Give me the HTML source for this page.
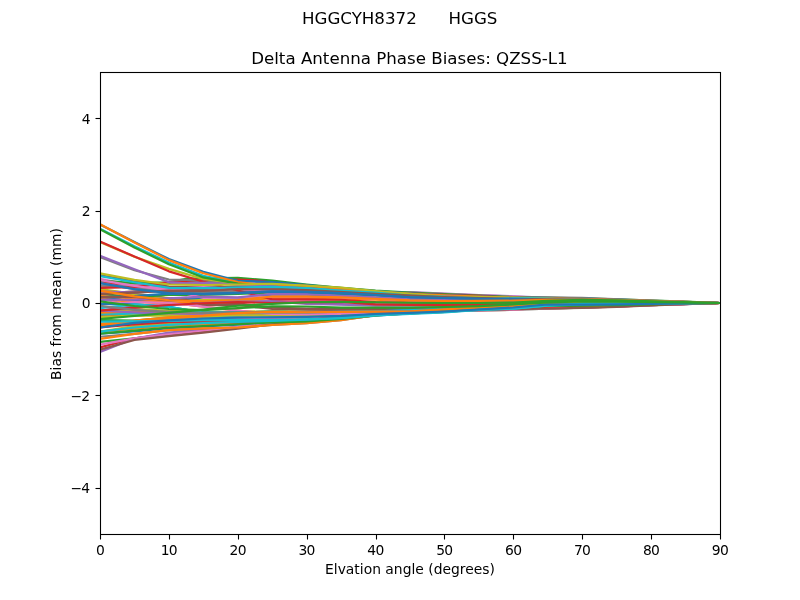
<!DOCTYPE html>
<html lang="en">
<head>
<meta charset="utf-8">
<title>Delta Antenna Phase Biases: QZSS-L1</title>
<style>
html,body{margin:0;padding:0;background:#fff;}
body{width:800px;height:600px;overflow:hidden;}
svg{display:block;font-family:"DejaVu Sans","Liberation Sans",sans-serif;fill:#000;}
.t10{font-size:13.89px;}
.t12{font-size:16.67px;}
.series polyline{fill:none;stroke-width:2.2;stroke-linejoin:round;stroke-linecap:butt;}
.ticks line{stroke:#000;stroke-width:1.1;}
</style>
</head>
<body>
<svg width="800" height="600" viewBox="0 0 800 600">
<rect x="0" y="0" width="800" height="600" fill="#ffffff"/>
<text class="t12" x="399.7" y="23.6" text-anchor="middle" xml:space="preserve" style="white-space:pre">HGGCYH8372      HGGS</text>
<text class="t12" x="409.4" y="64.2" text-anchor="middle">Delta Antenna Phase Biases: QZSS-L1</text>
<defs><clipPath id="axclip"><rect x="100" y="72" width="620" height="462"/></clipPath></defs>
<g class="series" clip-path="url(#axclip)">
<polyline points="100.00,333.72 134.44,331.40 168.89,328.08 203.33,326.52 237.78,324.71 272.22,322.81 306.67,321.84 341.11,319.24 375.56,315.71 410.00,313.36 444.44,311.71 478.89,309.60 513.33,307.73 547.78,306.10 582.22,305.72 616.67,305.15 720.00,303.00" stroke="#1f77b4"/>
<polyline points="100.00,331.64 134.44,326.12 168.89,323.70 203.33,322.07 237.78,321.02 272.22,320.20 306.67,318.91 341.11,317.19 375.56,314.54 410.00,312.78 444.44,311.46 478.89,309.66 513.33,308.32 547.78,305.58 582.22,304.21 651.11,303.38 720.00,303.00" stroke="#bcbd22"/>
<polyline points="100.00,327.49 134.44,321.84 168.89,319.47 203.33,317.71 237.78,317.00 272.22,316.71 306.67,316.32 341.11,315.49 375.56,313.64 410.00,312.60 444.44,311.26 513.33,307.31 547.78,304.24 582.22,304.53 616.67,304.28 720.00,303.00" stroke="#17becf"/>
<polyline points="100.00,325.41 134.44,321.92 168.89,318.52 203.33,316.69 237.78,314.09 272.22,312.60 306.67,312.96 341.11,312.38 410.00,311.70 478.89,307.89 513.33,306.23 547.78,303.33 565.00,302.81 582.22,303.40 616.67,303.69 651.11,303.55 720.00,303.00" stroke="#1f77b4"/>
<polyline points="100.00,320.19 134.44,320.56 168.89,317.32 203.33,315.66 237.78,313.16 272.22,311.78 306.67,312.24 341.11,311.78 375.56,311.59 410.00,311.32 478.89,307.62 513.33,306.00 547.78,303.14 565.00,302.63 582.22,303.23 616.67,303.55 651.11,303.46 720.00,303.00" stroke="#2ca02c"/>
<polyline points="100.00,317.14 134.44,314.34 168.89,314.46 203.33,315.37 237.78,314.32 272.22,314.65 306.67,314.76 444.44,308.69 513.33,306.94 547.78,305.81 582.22,305.46 651.11,304.30 720.00,303.00" stroke="#d62728"/>
<polyline points="100.00,310.62 134.44,306.11 203.33,301.87 237.78,300.60 272.22,300.48 306.67,303.13 341.11,304.10 375.56,305.25 444.44,304.96 513.33,304.14 720.00,303.00" stroke="#9467bd"/>
<polyline points="100.00,323.79 134.44,324.23 168.89,321.57 203.33,319.50 237.78,318.62 272.22,318.14 306.67,317.58 341.11,316.53 375.56,314.47 410.00,313.27 444.44,311.82 513.33,307.70 547.78,304.58 582.22,304.83 616.67,304.52 720.00,303.00" stroke="#e377c2"/>
<polyline points="100.00,289.14 134.44,293.91 168.89,298.13 203.33,299.59 237.78,298.38 272.22,295.09 306.67,295.27 341.11,296.22 375.56,297.93 410.00,299.74 444.44,300.60 513.33,300.30 547.78,299.43 582.22,299.70 616.67,300.22 685.56,301.99 720.00,303.00" stroke="#bcbd22"/>
<polyline points="100.00,314.87 134.44,311.44 168.89,312.96 203.33,314.24 237.78,314.78 272.22,314.86 306.67,314.47 444.44,308.31 513.33,306.53 651.11,303.86 720.00,303.00" stroke="#2ca02c"/>
<polyline points="100.00,301.38 134.44,294.37 168.89,298.59 186.11,297.82 203.33,303.33 237.78,303.23 272.22,307.57 306.67,308.49 341.11,308.88 375.56,308.64 513.33,306.31 582.22,306.86 651.11,304.70 720.00,303.00" stroke="#8c564b"/>
<polyline points="100.00,298.75 134.44,294.93 168.89,299.03 203.33,300.36 237.78,299.07 272.22,295.71 306.67,295.81 341.11,296.67 375.56,298.28 410.00,300.03 444.44,300.84 513.33,300.47 547.78,299.57 582.22,299.83 616.67,300.32 685.56,302.03 720.00,303.00" stroke="#bcbd22"/>
<polyline points="100.00,297.09 134.44,300.90 168.89,299.58 203.33,297.56 237.78,298.38 272.22,294.58 306.67,294.71 341.11,296.21 375.56,297.93 444.44,300.08 513.33,301.37 582.22,302.25 720.00,303.00" stroke="#1f77b4"/>
<polyline points="100.00,293.90 134.44,297.44 168.89,294.73 203.33,295.02 237.78,293.99 272.22,292.50 306.67,292.86 341.11,293.90 375.56,295.48 410.00,297.66 444.44,298.33 478.89,299.11 513.33,299.62 547.78,300.88 582.22,301.79 720.00,303.00" stroke="#2ca02c"/>
<polyline points="100.00,281.29 134.44,287.77 168.89,291.92 203.33,292.87 237.78,291.91 272.22,290.63 306.67,291.19 341.11,292.51 375.56,294.54 410.00,296.89 444.44,297.69 478.89,298.58 513.33,299.17 547.78,300.50 582.22,301.44 720.00,303.00" stroke="#d62728"/>
<polyline points="100.00,287.89 134.44,283.84 168.89,287.94 203.33,286.03 237.78,288.22 272.22,289.70 306.67,290.73 375.56,293.29 410.00,292.22 478.89,295.11 513.33,296.31 582.22,299.13 720.00,303.00" stroke="#9467bd"/>
<polyline points="100.00,293.90 134.44,291.24 168.89,289.33 203.33,289.96 237.78,288.22 272.22,288.55 306.67,289.35 375.56,293.29 444.44,296.68 513.33,298.62 582.22,299.59 651.11,301.53 720.00,303.00" stroke="#8c564b"/>
<polyline points="100.00,298.75 134.44,305.57 168.89,303.19 203.33,301.69 237.78,300.69 272.22,301.77 306.67,301.18 341.11,300.99 375.56,303.68 410.00,304.41 444.44,304.65 478.89,304.45 513.33,304.05 720.00,303.00" stroke="#e377c2"/>
<polyline points="100.00,312.61 134.44,308.90 168.89,310.88 203.33,312.12 237.78,311.78 272.22,311.16 306.67,311.70 341.11,311.33 375.56,311.24 410.00,311.03 478.89,307.42 513.33,305.84 582.22,304.26 651.11,303.40 720.00,303.00" stroke="#bcbd22"/>
<polyline points="100.00,283.13 134.44,289.11 168.89,284.01 203.33,281.90 237.78,281.06 255.00,281.67 272.22,283.90 341.11,290.04 375.56,292.62 410.00,293.88 444.44,295.39 478.89,296.24 513.33,298.02 547.78,299.13 582.22,300.02 720.00,303.00" stroke="#9467bd"/>
<polyline points="100.00,275.28 134.44,280.84 168.89,286.69 203.33,287.19 272.22,286.01 306.67,287.50 341.11,290.02 375.56,292.04 410.00,295.22 444.44,296.45 478.89,298.11 513.33,297.88 547.78,298.33 582.22,300.06 720.00,303.00" stroke="#8c564b"/>
<polyline points="100.00,341.81 134.44,338.34 168.89,334.23 203.33,330.72 272.22,323.33 306.67,320.56 375.56,314.32 444.44,311.08 513.33,309.75 582.22,307.62 651.11,305.08 720.00,303.00" stroke="#2ca02c"/>
<polyline points="100.00,347.35 134.44,338.25 168.89,334.63 203.33,331.28 237.78,327.58 272.22,323.23 375.56,313.96 444.44,310.46 513.33,308.96 582.22,307.64 616.67,306.76 651.11,305.20 720.00,303.00" stroke="#d62728"/>
<polyline points="100.00,351.97 134.44,338.57 168.89,332.57 203.33,329.43 237.78,327.02 272.22,323.79 306.67,321.02 341.11,318.01 375.56,314.80 410.00,312.65 444.44,310.94 478.89,309.65 513.33,308.58 547.78,307.80 582.22,307.29 616.67,306.43 651.11,305.14 685.56,304.20 720.00,303.00" stroke="#9467bd"/>
<polyline points="100.00,336.73 134.44,333.95 168.89,330.12 203.33,328.41 237.78,327.49 272.22,324.99 306.67,323.10 341.11,320.09 375.56,315.24 410.00,313.39 444.44,311.78 478.89,309.47 513.33,307.62 547.78,306.23 582.22,305.54 651.11,303.92 720.00,303.00" stroke="#7f7f7f"/>
<polyline points="100.00,331.64 168.89,325.69 203.33,324.47 237.78,322.87 272.22,321.17 306.67,320.40 341.11,318.04 375.56,314.77 410.00,312.59 444.44,311.07 478.89,309.07 513.33,307.29 547.78,305.72 582.22,305.38 616.67,304.87 720.00,303.00" stroke="#ff7f0e"/>
<polyline points="100.00,325.41 134.44,320.81 168.89,318.57 203.33,316.94 237.78,316.31 272.22,316.09 306.67,315.78 341.11,315.04 375.56,313.29 410.00,312.31 444.44,311.03 513.33,307.15 547.78,304.10 582.22,304.41 616.67,304.18 720.00,303.00" stroke="#ff7f0e"/>
<polyline points="100.00,314.87 134.44,313.65 168.89,313.86 203.33,314.86 237.78,313.86 272.22,314.24 306.67,314.40 375.56,311.53 444.44,308.53 513.33,306.82 547.78,305.72 582.22,305.38 651.11,304.26 720.00,303.00" stroke="#7f7f7f"/>
<polyline points="100.00,313.76 134.44,313.84 168.89,315.05 203.33,316.04 237.78,316.40 272.22,316.30 306.67,315.73 444.44,308.86 513.33,306.92 651.11,304.01 720.00,303.00" stroke="#17becf"/>
<polyline points="100.00,312.61 134.44,311.30 168.89,312.98 203.33,313.91 237.78,313.39 272.22,312.60 306.67,312.96 341.11,312.38 410.00,311.70 478.89,307.89 513.33,306.23 582.22,304.56 651.11,303.55 720.00,303.00" stroke="#ff7f0e"/>
<polyline points="100.00,298.75 134.44,302.08 168.89,302.77 237.78,310.62 272.22,314.00 306.67,314.37 341.11,313.63 375.56,312.70 444.44,310.39 513.33,309.75 547.78,307.48 582.22,306.79 616.67,306.00 651.11,304.85 720.00,303.00" stroke="#ff7f0e"/>
<polyline points="100.00,295.75 134.44,298.70 168.89,302.32 203.33,303.18 237.78,301.61 272.22,297.97 306.67,297.79 341.11,298.32 375.56,299.57 410.00,301.09 444.44,301.71 513.33,301.08 547.78,300.10 582.22,300.30 616.67,300.70 651.11,301.39 685.56,302.16 720.00,303.00" stroke="#ff7f0e"/>
<polyline points="100.00,291.45 134.44,292.61 168.89,290.53 203.33,290.99 237.78,289.14 272.22,289.37 306.67,290.06 375.56,293.76 444.44,296.99 513.33,298.84 582.22,299.77 651.11,301.61 720.00,303.00" stroke="#9467bd"/>
<polyline points="100.00,285.63 134.44,287.09 168.89,291.32 203.33,292.36 237.78,291.45 272.22,290.22 306.67,290.83 341.11,292.21 375.56,294.30 410.00,296.69 444.44,297.54 478.89,298.44 513.33,299.06 547.78,300.40 582.22,301.36 720.00,303.00" stroke="#7f7f7f"/>
<polyline points="100.00,278.75 134.44,285.21 168.89,289.14 203.33,287.06 237.78,289.14 272.22,290.53 306.67,291.45 375.56,293.76 410.00,292.61 478.89,295.38 513.33,296.53 582.22,299.30 720.00,303.00" stroke="#e377c2"/>
<polyline points="100.00,280.59 134.44,283.13 168.89,282.44 186.11,278.75 203.33,278.28 237.78,277.73 272.22,280.59 306.67,284.52 341.11,287.75 375.56,290.62 410.00,292.61 444.44,294.22 513.33,296.99 582.22,298.38 616.67,299.30 685.56,301.61 720.00,303.00" stroke="#2ca02c"/>
<polyline points="100.00,287.89 134.44,287.06 168.89,282.21 203.33,280.36 237.78,279.67 255.00,280.36 272.22,282.67 341.11,289.14 375.56,291.91 410.00,293.30 444.44,294.92 478.89,295.84 513.33,297.69 547.78,298.84 582.22,299.77 720.00,303.00" stroke="#d62728"/>
<polyline points="100.00,257.03 134.44,270.20 168.89,279.53 186.11,279.90 203.33,281.29 237.78,284.52 272.22,285.91 375.56,292.84 444.44,296.07 513.33,297.92 547.78,297.46 582.22,297.92 651.11,300.69 720.00,303.00" stroke="#7f7f7f"/>
<polyline points="100.00,242.02 134.44,256.80 168.89,268.90 203.33,278.98 237.78,283.60 272.22,285.91 306.67,288.68 341.11,291.06 375.56,293.62 410.00,295.33 444.44,296.69 478.89,297.71 513.33,298.57 547.78,299.18 582.22,299.59 616.67,300.27 651.11,301.29 685.56,302.05 720.00,303.00" stroke="#bcbd22"/>
<polyline points="100.00,228.62 134.44,246.17 168.89,262.57 203.33,275.88 237.78,282.67 272.22,285.91 306.67,288.68 341.11,291.06 375.56,293.62 410.00,295.33 444.44,296.69 478.89,297.71 513.33,298.57 547.78,299.18 582.22,299.59 616.67,300.27 651.11,301.29 685.56,302.05 720.00,303.00" stroke="#17becf"/>
<polyline points="100.00,224.46 134.44,242.02 168.89,259.11 203.33,271.77 237.78,280.82 272.22,281.98 341.11,287.99 375.56,291.20 410.00,293.35 444.44,295.06 478.89,296.35 513.33,297.42 547.78,298.20 582.22,298.71 616.67,299.57 651.11,300.86 685.56,301.80 720.00,303.00" stroke="#1f77b4"/>
<polyline points="100.00,224.23 134.44,242.48 168.89,260.13 203.33,273.25 237.78,281.98 255.00,284.06 272.22,284.29 306.67,285.91 341.11,288.75 375.56,291.81 410.00,293.84 444.44,295.47 478.89,296.69 513.33,297.71 547.78,298.44 582.22,298.93 616.67,299.74 651.11,300.97 685.56,301.86 720.00,303.00" stroke="#ff7f0e"/>
<polyline points="100.00,229.31 134.44,247.56 168.89,264.19 203.33,277.41 237.78,283.60 272.22,286.83 306.67,289.60 341.11,291.84 375.56,294.23 410.00,295.82 444.44,297.10 478.89,298.06 513.33,298.85 547.78,299.43 582.22,299.81 616.67,300.45 651.11,301.40 685.56,302.11 720.00,303.00" stroke="#2ca02c"/>
<polyline points="100.00,241.55 134.44,256.52 168.89,271.35 203.33,281.75 237.78,290.53 272.22,299.40 306.67,299.40 341.11,299.77 375.56,302.08 410.00,302.77 444.44,303.00 513.33,302.54 582.22,301.61 651.11,302.08 720.00,303.00" stroke="#d62728"/>
<polyline points="100.00,255.88 134.44,269.27 168.89,282.12 186.11,283.23 203.33,282.90 220.56,283.60 237.78,284.98 272.22,286.37 306.67,288.68 341.11,291.06 375.56,293.62 410.00,295.33 444.44,296.69 478.89,297.71 513.33,298.57 547.78,299.18 582.22,299.59 616.67,300.27 651.11,301.29 685.56,302.05 720.00,303.00" stroke="#9467bd"/>
<polyline points="100.00,273.29 134.44,279.90 168.89,284.52 203.33,284.98 237.78,284.52 272.22,283.73 341.11,287.52 375.56,290.99 444.44,296.53 478.89,296.99 513.33,297.69 547.78,298.84 582.22,299.77 720.00,303.00" stroke="#bcbd22"/>
<polyline points="100.00,276.20 134.44,282.21 168.89,287.89 203.33,288.22 272.22,286.83 306.67,288.22 341.11,290.62 375.56,292.51 410.00,295.61 444.44,296.76 478.89,298.38 513.33,298.10 547.78,298.52 582.22,300.23 720.00,303.00" stroke="#17becf"/>
<polyline points="100.00,280.13 134.44,285.91 168.89,290.53 186.11,293.76 203.33,297.92 237.78,297.69 272.22,296.53 306.67,296.53 341.11,297.27 375.56,298.75 410.00,300.41 444.44,301.15 513.33,300.69 547.78,299.77 582.22,300.00 616.67,300.46 685.56,302.08 720.00,303.00" stroke="#e377c2"/>
<polyline points="100.00,293.90 134.44,292.61 168.89,290.53 203.33,290.99 237.78,289.14 272.22,289.37 306.67,290.06 375.56,293.76 444.44,296.99 513.33,298.84 582.22,299.77 651.11,301.61 720.00,303.00" stroke="#8c564b"/>
<polyline points="100.00,299.90 134.44,299.53 168.89,298.38 203.33,296.53 237.78,297.46 272.22,293.76 306.67,293.99 341.11,295.61 375.56,297.46 444.44,299.77 513.33,301.15 582.22,302.08 720.00,303.00" stroke="#9467bd"/>
<polyline points="100.00,297.09 134.44,296.07 168.89,293.53 203.33,293.99 237.78,293.07 272.22,291.68 306.67,292.14 341.11,293.30 375.56,295.01 410.00,297.27 444.44,298.01 478.89,298.84 513.33,299.40 547.78,300.69 582.22,301.61 720.00,303.00" stroke="#1f77b4"/>
<polyline points="100.00,283.13 134.44,289.14 168.89,293.11 203.33,293.90 237.78,292.84 272.22,291.45 306.67,291.91 341.11,293.11 375.56,295.01 410.00,297.27 444.44,298.01 478.89,298.84 513.33,299.40 547.78,300.69 582.22,301.61 720.00,303.00" stroke="#1f77b4"/>
<polyline points="100.00,297.09 134.44,296.76 168.89,300.69 186.11,299.77 203.33,305.13 237.78,304.85 272.22,309.01 306.67,309.75 341.11,309.93 375.56,309.47 513.33,306.70 582.22,307.16 651.11,304.85 720.00,303.00" stroke="#8c564b"/>
<polyline points="100.00,290.53 134.44,296.30 168.89,300.23 203.33,301.38 237.78,300.00 272.22,296.53 306.67,296.53 341.11,297.27 375.56,298.75 410.00,300.41 444.44,301.15 513.33,300.69 547.78,299.77 582.22,300.00 616.67,300.46 685.56,302.08 720.00,303.00" stroke="#ff7f0e"/>
<polyline points="100.00,310.62 134.44,312.47 168.89,313.86 203.33,315.01 237.78,315.47 272.22,315.47 306.67,315.01 444.44,308.54 513.33,306.70 651.11,303.92 720.00,303.00" stroke="#9467bd"/>
<polyline points="100.00,310.62 134.44,307.62 203.33,303.00 237.78,301.61 272.22,301.38 306.67,303.92 341.11,304.76 375.56,305.77 444.44,305.31 513.33,304.39 720.00,303.00" stroke="#9467bd"/>
<polyline points="100.00,317.14 134.44,315.71 168.89,315.66 203.33,316.40 237.78,315.24 272.22,315.47 306.67,315.47 444.44,309.01 513.33,307.16 547.78,306.00 582.22,305.63 651.11,304.39 720.00,303.00" stroke="#bcbd22"/>
<polyline points="100.00,304.39 134.44,302.08 168.89,302.77 237.78,310.62 272.22,314.00 306.67,314.37 341.11,313.63 375.56,312.70 444.44,310.39 513.33,309.75 547.78,307.48 582.22,306.79 616.67,306.00 651.11,304.85 720.00,303.00" stroke="#e377c2"/>
<polyline points="100.00,303.83 134.44,304.39 168.89,306.93 203.33,312.70 237.78,312.47 272.22,311.78 306.67,312.24 375.56,311.32 444.44,309.01 513.33,305.77 582.22,304.39 651.11,303.46 720.00,303.00" stroke="#1f77b4"/>
<polyline points="100.00,308.08 134.44,304.39 168.89,306.93 203.33,312.70 237.78,312.47 272.22,311.78 306.67,312.24 375.56,311.32 444.44,309.01 513.33,305.77 582.22,304.39 651.11,303.46 720.00,303.00" stroke="#17becf"/>
<polyline points="100.00,310.62 134.44,307.62 168.89,304.99 203.33,303.23 237.78,302.08 272.22,303.00 306.67,302.26 341.11,301.89 375.56,304.39 410.00,304.99 444.44,305.13 478.89,304.85 513.33,304.39 720.00,303.00" stroke="#d62728"/>
<polyline points="100.00,305.86 134.44,309.93 168.89,311.78 203.33,312.89 237.78,312.47 272.22,311.78 306.67,312.24 341.11,311.78 375.56,311.59 410.00,311.32 478.89,307.62 513.33,306.00 582.22,304.39 651.11,303.46 720.00,303.00" stroke="#7f7f7f"/>
<polyline points="100.00,344.58 134.44,338.34 168.89,334.23 203.33,330.72 272.22,323.33 306.67,320.56 375.56,314.32 444.44,311.08 513.33,309.75 582.22,307.62 651.11,305.08 720.00,303.00" stroke="#e377c2"/>
<polyline points="100.00,349.66 134.44,339.96 168.89,336.13 203.33,332.57 237.78,328.73 272.22,324.25 375.56,314.55 444.44,310.85 513.33,309.24 582.22,307.85 616.67,306.93 651.11,305.31 720.00,303.00" stroke="#8c564b"/>
<polyline points="100.00,338.81 134.44,333.95 168.89,330.12 203.33,328.41 237.78,327.49 272.22,324.99 306.67,323.10 341.11,320.09 375.56,315.24 410.00,313.39 444.44,311.78 478.89,309.47 513.33,307.62 547.78,306.23 582.22,305.54 651.11,303.92 720.00,303.00" stroke="#ff7f0e"/>
<polyline points="100.00,327.49 134.44,324.48 168.89,322.27 203.33,321.71 237.78,322.40 272.22,321.48 306.67,320.09 375.56,314.09 444.44,310.39 513.33,307.62 582.22,305.77 720.00,303.00" stroke="#d62728"/>
<polyline points="100.00,333.72 134.44,330.72 168.89,327.49 203.33,326.01 237.78,324.25 272.22,322.40 306.67,321.48 341.11,318.94 375.56,315.47 410.00,313.16 444.44,311.55 478.89,309.47 513.33,307.62 547.78,306.00 582.22,305.63 616.67,305.08 720.00,303.00" stroke="#2ca02c"/>
<polyline points="100.00,331.64 134.44,327.49 168.89,324.90 203.33,323.10 237.78,321.94 272.22,321.02 306.67,319.63 341.11,317.78 375.56,315.01 410.00,313.16 444.44,311.78 478.89,309.93 513.33,308.54 547.78,305.77 582.22,304.39 651.11,303.46 720.00,303.00" stroke="#17becf"/>
<polyline points="100.00,323.79 168.89,317.32 203.33,315.66 237.78,313.16 272.22,311.78 306.67,312.24 341.11,311.78 375.56,311.59 410.00,311.32 478.89,307.62 513.33,306.00 547.78,303.14 565.00,302.63 582.22,303.23 616.67,303.55 651.11,303.46 720.00,303.00" stroke="#ff7f0e"/>
<polyline points="100.00,321.71 168.89,320.79 203.33,320.09 272.22,320.09 306.67,319.40 341.11,318.11 375.56,315.47 410.00,313.86 444.44,312.47 478.89,309.93 513.33,308.54 547.78,305.31 582.22,303.55 720.00,303.00" stroke="#17becf"/>
<polyline points="100.00,327.49 134.44,322.87 168.89,320.37 203.33,318.48 237.78,317.69 272.22,317.32 306.67,316.86 341.11,315.94 375.56,314.00 410.00,312.89 444.44,311.50 513.33,307.48 547.78,304.39 582.22,304.66 616.67,304.39 720.00,303.00" stroke="#1f77b4"/>
<polyline points="100.00,301.38 134.44,306.00 168.89,309.01 203.33,310.16 237.78,308.08 272.22,306.47 306.67,306.51 341.11,307.62 410.00,307.62 444.44,307.02 478.89,306.10 513.33,304.39 547.78,302.31 582.22,301.48 616.67,301.61 720.00,303.00" stroke="#2ca02c"/>
<polyline points="100.00,318.99 168.89,312.93 203.33,309.70 237.78,305.77 272.22,303.92 306.67,302.26 341.11,301.89 375.56,302.26 410.00,302.77 444.44,303.00 478.89,303.00 513.33,302.54 547.78,300.92 582.22,299.77 616.67,300.23 720.00,303.00" stroke="#2ca02c"/>
</g>
<g class="ticks"><line x1="100.5" y1="534.5" x2="100.5" y2="539.5"/><line x1="169.5" y1="534.5" x2="169.5" y2="539.5"/><line x1="238.5" y1="534.5" x2="238.5" y2="539.5"/><line x1="307.5" y1="534.5" x2="307.5" y2="539.5"/><line x1="376.5" y1="534.5" x2="376.5" y2="539.5"/><line x1="444.5" y1="534.5" x2="444.5" y2="539.5"/><line x1="513.5" y1="534.5" x2="513.5" y2="539.5"/><line x1="582.5" y1="534.5" x2="582.5" y2="539.5"/><line x1="651.5" y1="534.5" x2="651.5" y2="539.5"/><line x1="720.5" y1="534.5" x2="720.5" y2="539.5"/><line x1="95.5" y1="488.5" x2="100.5" y2="488.5"/><line x1="95.5" y1="395.5" x2="100.5" y2="395.5"/><line x1="95.5" y1="303.5" x2="100.5" y2="303.5"/><line x1="95.5" y1="211.5" x2="100.5" y2="211.5"/><line x1="95.5" y1="118.5" x2="100.5" y2="118.5"/></g>
<g class="t10"><text x="100.50" y="555.2" text-anchor="middle">0</text><text x="168.79" y="555.2" text-anchor="middle" letter-spacing="-0.7">10</text><text x="237.68" y="555.2" text-anchor="middle" letter-spacing="-0.7">20</text><text x="306.57" y="555.2" text-anchor="middle" letter-spacing="-0.7">30</text><text x="375.46" y="555.2" text-anchor="middle" letter-spacing="-0.7">40</text><text x="444.34" y="555.2" text-anchor="middle" letter-spacing="-0.7">50</text><text x="513.23" y="555.2" text-anchor="middle" letter-spacing="-0.7">60</text><text x="582.12" y="555.2" text-anchor="middle" letter-spacing="-0.7">70</text><text x="651.01" y="555.2" text-anchor="middle" letter-spacing="-0.7">80</text><text x="719.90" y="555.2" text-anchor="middle" letter-spacing="-0.7">90</text><text x="89.0" y="493.10" text-anchor="end" letter-spacing="-1">−4</text><text x="89.0" y="400.70" text-anchor="end" letter-spacing="-1">−2</text><text x="90.6" y="308.30" text-anchor="end">0</text><text x="90.6" y="215.90" text-anchor="end">2</text><text x="90.6" y="123.50" text-anchor="end">4</text></g>
<text class="t10" x="410" y="574" text-anchor="middle">Elvation angle (degrees)</text>
<text class="t10" transform="translate(60.5,304) rotate(-90)" text-anchor="middle">Bias from mean (mm)</text>
<rect x="100.5" y="72.5" width="620" height="462" fill="none" stroke="#000" stroke-width="1.1"/>
</svg>
</body>
</html>
